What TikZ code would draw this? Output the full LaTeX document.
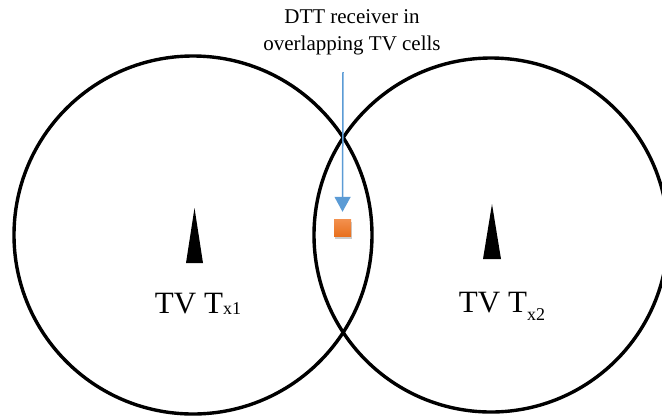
\documentclass[tikz,border=0pt]{standalone}
\usepackage{fontspec}
\setmainfont{Liberation Serif}
\usetikzlibrary{arrows.meta, shadows}
\usepackage{xcolor}
\definecolor{rxblue}{HTML}{5B9BD5}
\definecolor{rxtop}{HTML}{F3914F}
\definecolor{rxbot}{HTML}{E8701E}

\begin{document}
\begin{tikzpicture}[
        x=1pt, y=-1pt,
        cell/.style={
            circle,
            draw=black,
            line width=3.4pt,
            inner sep=0pt
        },
        mast/.style={fill=black},
        txname/.style={font=\fontsize{31}{36}\selectfont, inner sep=0pt, anchor=base},
        receiver/.style={
            rectangle,
            minimum size=17pt,
            inner sep=0pt,
            top color=rxtop,
            bottom color=rxbot,
            drop shadow={opacity=0.4, shadow xshift=1pt, shadow yshift=-3pt}
        },
        feed/.style={-{Triangle[width=16pt, length=15pt]}, rxblue, line width=1.5pt, shorten >=7pt}
    ]
    \useasboundingbox (0,0) rectangle (662,416);

    % --- CELLS ---
    \node (cellA) [cell, minimum size=358pt] at (193,235) {};
    \node (cellB) [cell, minimum size=354pt] at (491,235) {};

    % --- TRANSMITTERS ---
    \fill [mast] (186,263) -- (194.5,208) -- (203,263) -- cycle;
    \fill [mast] (483,259) -- (492,204) -- (501,259) -- cycle;

    \node (txA) [txname] at (198,313) {TV T\raisebox{-1.5pt}{\fontsize{18}{20}\selectfont x1}};
    \node (txB) [txname] at (502,312) {TV T\raisebox{-8pt}{\fontsize{18}{20}\selectfont x2}};

    % --- RECEIVER ---
    \node (rx) [receiver] at (342.5,227.5) {};

    \node (note) [font=\fontsize{21}{27}\selectfont, align=center, inner sep=0pt, anchor=north]
        at (352,9) {DTT receiver in\\overlapping TV cells};

    % --- ARROW ---
    \coordinate (feedtop) at (343,72);
    \draw [feed] (feedtop) -- (rx.north);

\end{tikzpicture}
\end{document}
